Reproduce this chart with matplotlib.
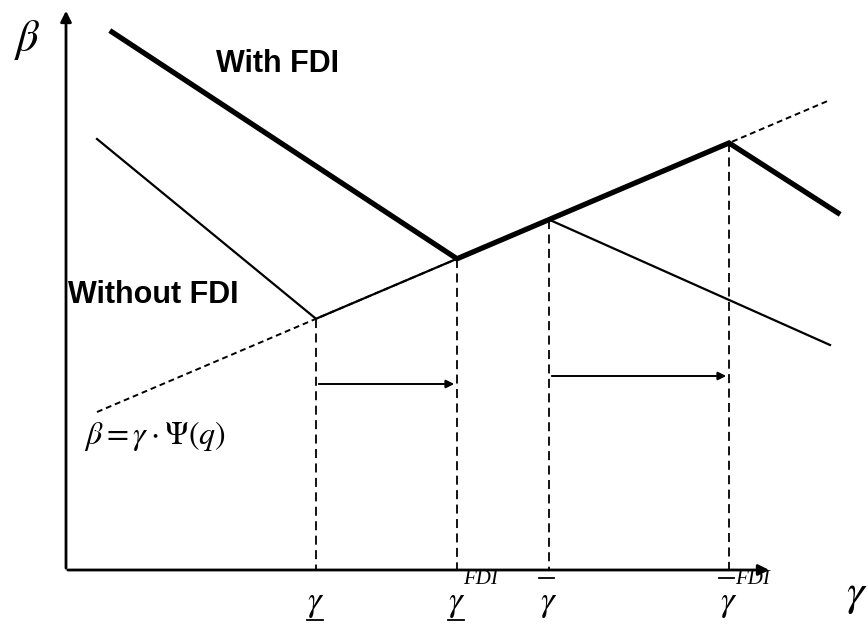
import numpy as np
import matplotlib.pyplot as plt

plt.rcParams['mathtext.fontset'] = 'stix'

# diagram coordinates (pixel-like, y grows downward)
ray_x = [97, 830]
ray_y = [412, 100]

# thresholds on the gamma axis: gamma_low, gamma_low_FDI, gamma_bar, gamma_bar_FDI
thresh_x = [316, 457, 549, 729]

without_start = (97, 139)
without_end = (830, 345)
with_start = (112, 32)
with_end = (838, 213)

axis_origin = (66, 570)
axis_x_end = 772
axis_y_end = 8

arrow_rows = [384, 376]


def on_ray(x):
    slope = (ray_y[1] - ray_y[0]) / (ray_x[1] - ray_x[0])
    return ray_y[0] + slope * (x - ray_x[0])


fig = plt.figure(figsize=(8.68, 6.26), dpi=100)
ax = fig.add_axes([0, 0, 1, 1])
ax.set_xlim(0, 868)
ax.set_ylim(626, 0)
ax.axis('off')

# axes with arrows
ox, oy = axis_origin
ax.annotate('', xy=(axis_x_end, oy), xytext=(ox - 1, oy),
            arrowprops=dict(arrowstyle='-|>', color='black', lw=2, mutation_scale=16))
ax.annotate('', xy=(ox, axis_y_end), xytext=(ox, oy + 1),
            arrowprops=dict(arrowstyle='-|>', color='black', lw=2, mutation_scale=16))

# dotted ray beta = gamma * Psi(q)
ax.plot(ray_x, ray_y, color='black', lw=1.4, ls=(0, (3, 2)))

# without FDI
kx = [thresh_x[0], thresh_x[2]]
wx = [without_start[0], kx[0], kx[1], without_end[0]]
wy = [without_start[1], on_ray(kx[0]), on_ray(kx[1]), without_end[1]]
ax.plot(wx, wy, color='black', lw=1.6, solid_joinstyle='miter')

# with FDI
fx = [with_start[0], thresh_x[1], thresh_x[3], with_end[0]]
fy = [with_start[1], on_ray(thresh_x[1]), on_ray(thresh_x[3]), with_end[1]]
ax.plot(fx, fy, color='black', lw=3.8, solid_joinstyle='miter')

# dashed verticals
for x in thresh_x:
    ax.plot([x, x], [on_ray(x), oy], color='black', lw=1.3, ls=(0, (5, 3)))

# shift arrows
ax.annotate('', xy=(thresh_x[1], arrow_rows[0]), xytext=(thresh_x[0], arrow_rows[0]),
            arrowprops=dict(arrowstyle='-|>', color='black', lw=1.4, mutation_scale=12))
ax.annotate('', xy=(thresh_x[3], arrow_rows[1]), xytext=(thresh_x[2], arrow_rows[1]),
            arrowprops=dict(arrowstyle='-|>', color='black', lw=1.4, mutation_scale=12))

# texts
ax.text(216, 64, 'With FDI', fontsize=22, fontweight='bold',
        family='Liberation Sans', va='center', ha='left')
ax.text(68, 295, 'Without FDI', fontsize=22, fontweight='bold',
        family='Liberation Sans', va='center', ha='left')
ax.text(27, 40, r'$\beta$', fontsize=32, ha='center', va='center')
ax.text(857, 594, r'$\gamma$', fontsize=32, ha='center', va='center')
ax.text(84, 436, r'$\beta = \gamma \cdot \Psi(q)$', fontsize=23, ha='left', va='center')

lab_y = 603
for i, x in enumerate(thresh_x):
    ax.text(x, lab_y, r'$\gamma$', fontsize=25, ha='center', va='center')
    if i < 2:
        ax.plot([x - 9, x + 7], [620, 620], color='black', lw=1.3)
    else:
        ax.plot([x - 10, x + 5], [578, 578], color='black', lw=1.3)
    if i % 2 == 1:
        ax.text(x + 6, 580, 'FDI', fontsize=15, family='Liberation Serif',
                style='italic', ha='left', va='center')

fig.savefig('out.png', dpi=100)
